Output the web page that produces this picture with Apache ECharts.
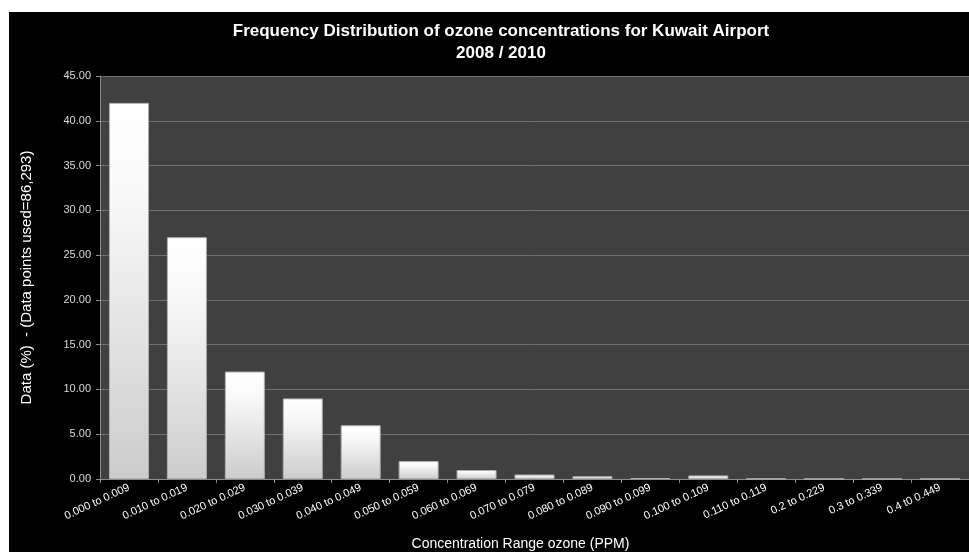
<!DOCTYPE html>
<html>
<head>
<meta charset="utf-8">
<script src="https://cdn.jsdelivr.net/npm/echarts@6/dist/echarts.min.js"></script>
<style>
html,body{margin:0;padding:0;background:#ffffff;}
#frame{position:absolute;left:9px;top:12px;width:960px;height:540px;background:#000000;}
#chart{width:960px;height:540px;}
</style>
</head>
<body>
<div id="frame"><div id="chart"></div></div>
<script>
var categories = ["0.000 to 0.009","0.010 to 0.019","0.020 to 0.029","0.030 to 0.039","0.040 to 0.049","0.050 to 0.059","0.060 to 0.069","0.070 to 0.079","0.080 to 0.089","0.090 to 0.099","0.100 to 0.109","0.110 to 0.119","0.2 to 0.229","0.3 to 0.339","0.4 t0 0.449"];
var percentages = [42.0, 27.0, 12.0, 9.0, 6.0, 2.0, 1.0, 0.5, 0.3, 0.1, 0.4, 0.02, 0.01, 0.01, 0.01];
var titleLines = ["Frequency Distribution of ozone concentrations for Kuwait Airport", "2008 / 2010"];
var yAxisName = "Data (%)  - (Data points used=86,293)";
var xAxisName = "Concentration Range ozone (PPM)";

var chart = echarts.init(document.getElementById('chart'), null, {renderer:'canvas'});
var fontFam = 'Liberation Sans, Arial, sans-serif';
chart.setOption({
  backgroundColor: '#000000',
  animation: false,
  title: {
    text: titleLines.join('\n'),
    left: 487,
    top: 3,
    textAlign: 'center',
    textStyle: {color:'#ffffff', fontSize:17, fontWeight:'bold', fontFamily:fontFam, lineHeight:22}
  },
  grid: {left:91, top:64, right:0, bottom:73, show:true, backgroundColor:'#404040', borderWidth:0, outerBoundsMode:'none', containLabel:false},
  xAxis: {
    type:'category',
    data: categories,
    name: xAxisName,
    nameLocation:'middle',
    nameGap: 58,
    nameTextStyle:{color:'#ffffff', fontSize:14, fontFamily:fontFam, padding:[0,28,0,0]},
    axisLine:{lineStyle:{color:'#8c8c8c', width:1}},
    axisTick:{show:true, length:4, alignWithLabel:false, lineStyle:{color:'#8c8c8c'}},
    axisLabel:{color:'#ffffff', fontSize:11, fontFamily:fontFam, rotate:25, interval:0, margin:8}
  },
  yAxis: {
    type:'value',
    min:0, max:45, interval:5,
    name: yAxisName,
    nameLocation:'middle',
    nameGap: 66,
    nameTextStyle:{color:'#ffffff', fontSize:15, fontFamily:fontFam},
    axisLine:{show:true, lineStyle:{color:'#8c8c8c'}},
    axisTick:{show:true, length:4, lineStyle:{color:'#8c8c8c'}},
    axisLabel:{color:'#d9d9d9', fontSize:11, fontFamily:fontFam, margin:9, formatter:function(v){return v.toFixed(2);}},
    splitLine:{lineStyle:{color:'#707070', width:1}}
  },
  series: [{
    type:'bar',
    data: percentages,
    barWidth:'69%',
    itemStyle:{
      color: new echarts.graphic.LinearGradient(0,0,0,1,[
        {offset:0, color:'#ffffff'},
        {offset:0.25, color:'#f8f8f8'},
        {offset:1, color:'#cccccc'}
      ]),
      borderColor:'#b0b0b0',
      borderWidth:1
    }
  }]
});
</script>
</body>
</html>
